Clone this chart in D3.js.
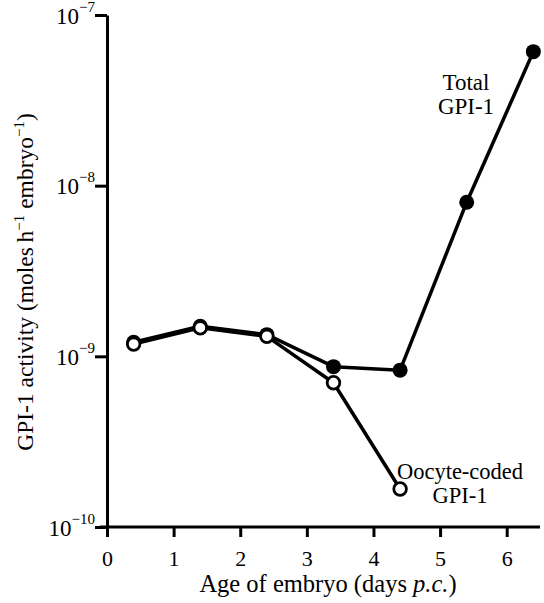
<!DOCTYPE html>
<html>
<head>
<meta charset="utf-8">
<script src="https://cdn.jsdelivr.net/npm/d3@7"></script>
<style>
  body { margin: 0; background: #fff; }
  svg { display: block; font-family: "Liberation Serif", "DejaVu Serif", serif; }
  .axis path, .axis line { stroke: #000; stroke-width: 3; }
  .series { fill: none; stroke: #000; stroke-width: 3.5; stroke-linejoin: round; }
</style>
</head>
<body>
<div id="chart"></div>
<script>
// days post coitum
var days = [0.4, 1.4, 2.4, 3.4, 4.4, 5.4, 6.4];
var totalGPI = [1.21e-9, 1.50e-9, 1.34e-9, 0.87e-9, 0.83e-9, 8.0e-9, 6.1e-8];
var oocyteDays = [0.4, 1.4, 2.4, 3.4, 4.4];
var oocyteGPI = [1.18e-9, 1.47e-9, 1.31e-9, 0.70e-9, 1.67e-10];
var xTicks = [0, 1, 2, 3, 4, 5, 6];
var yTicks = [1e-10, 1e-9, 1e-8, 1e-7];
var yExp = ['\u221210', '\u22129', '\u22128', '\u22127'];

var width = 544, height = 603;

var svg = d3.select('#chart').append('svg')
  .attr('width', width)
  .attr('height', height);

var x = d3.scaleLinear().domain([0, 6.5]).range([107, 540]);
var y = d3.scaleLog().domain([1e-10, 1e-7]).range([527, 15]);

// y axis
var yAxis = svg.append('g')
  .attr('class', 'axis')
  .attr('transform', 'translate(107,0)')
  .call(d3.axisLeft(y).tickValues(yTicks).tickSize(12).tickSizeOuter(0).tickFormat(''))
  .attr('font-family', null);
yAxis.selectAll('.tick').each(function(d, i) {
  var t = d3.select(this).append('text')
    .attr('x', -12)
    .attr('y', 8)
    .attr('fill', '#000')
    .attr('text-anchor', 'end')
    .style('font-size', '23px');
  t.append('tspan').text('10');
  t.append('tspan').attr('dy', -12).style('font-size', '15px').text(yExp[i]);
});

// x axis
svg.append('g')
  .attr('class', 'axis')
  .attr('transform', 'translate(0,527)')
  .call(d3.axisBottom(x).tickValues(xTicks).tickSize(10).tickSizeOuter(0)
    .tickPadding(13).tickFormat(d3.format('d')))
  .attr('font-family', null)
  .call(function(g) {
    g.select('.domain').attr('d', 'M100,0H540');
    g.selectAll('text').attr('fill', '#000').style('font-size', '22px');
  });

// axis titles
svg.append('text')
  .attr('x', 328)
  .attr('y', 592)
  .attr('text-anchor', 'middle')
  .style('font-size', '24.5px')
  .call(function(t) {
    t.append('tspan').text('Age of embryo (days ');
    t.append('tspan').style('font-style', 'italic').text('p.c.');
    t.append('tspan').text(')');
  });

svg.append('text')
  .attr('transform', 'translate(33,282) rotate(-90)')
  .attr('text-anchor', 'middle')
  .style('font-size', '23.5px')
  .call(function(t) {
    t.append('tspan').text('GPI-1 activity (moles\u2009h');
    t.append('tspan').attr('dy', -9).style('font-size', '15px').text('\u22121');
    t.append('tspan').attr('dy', 9).text(' embryo');
    t.append('tspan').attr('dy', -9).style('font-size', '15px').text('\u22121');
    t.append('tspan').attr('dy', 9).text(')');
  });

// lines
var line = d3.line()
  .x(function(d) { return x(d[0]); })
  .y(function(d) { return y(d[1]); });

var totalPts = d3.zip(days, totalGPI);
var oocytePts = d3.zip(oocyteDays, oocyteGPI);

svg.append('path').attr('class', 'series').attr('d', line(totalPts));
svg.append('path').attr('class', 'series').attr('d', line(oocytePts));

svg.selectAll('circle.total').data(totalPts)
  .enter().append('circle')
  .attr('class', 'total')
  .attr('cx', function(d) { return x(d[0]); })
  .attr('cy', function(d) { return y(d[1]); })
  .attr('r', 7.5)
  .attr('fill', '#000');

svg.selectAll('circle.oocyte').data(oocytePts)
  .enter().append('circle')
  .attr('class', 'oocyte')
  .attr('cx', function(d) { return x(d[0]); })
  .attr('cy', function(d) { return y(d[1]); })
  .attr('r', 6.3)
  .attr('fill', '#fff')
  .attr('stroke', '#000')
  .attr('stroke-width', 2.8);

// series labels
function label(lines, cx, baseY, size) {
  lines.forEach(function(s, i) {
    svg.append('text')
      .attr('x', cx)
      .attr('y', baseY + i * 24)
      .attr('text-anchor', 'middle')
      .style('font-size', size + 'px')
      .text(s);
  });
}
label(['Total', 'GPI-1'], 466, 90, 23);
label(['Oocyte-coded', 'GPI-1'], 460, 479, 22.5);
</script>
</body>
</html>
